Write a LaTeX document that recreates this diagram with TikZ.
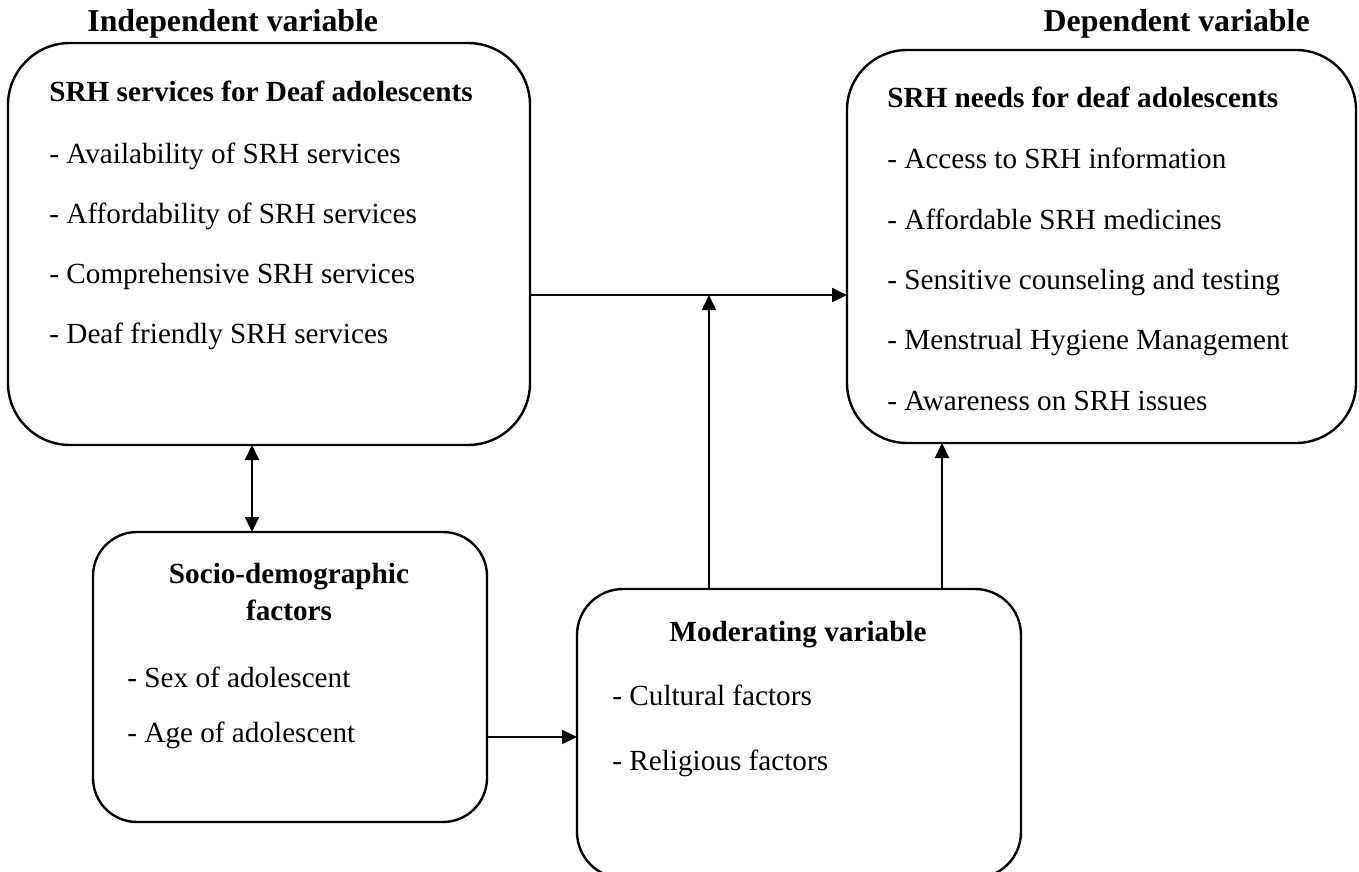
\documentclass[tikz,border=0pt]{standalone}
\usepackage{fontspec}
\setmainfont{Liberation Serif}
\usetikzlibrary{arrows.meta,calc}
\begin{document}
\begin{tikzpicture}[x=0.5pt,y=-0.5pt,
  box/.style={draw,line width=1.2pt,outer sep=0pt,inner sep=0pt,rectangle},
  txt/.style={anchor=base west,inner sep=0pt,font=\fontsize{14.6}{17}\selectfont},
  ttl/.style={anchor=base west,inner sep=0pt,font=\fontsize{14.6}{17}\selectfont\bfseries},
  hdr/.style={inner sep=0pt,font=\fontsize{15.9}{19}\selectfont\bfseries},
  arr/.style={line width=1pt,-{Triangle[length=7.5pt,width=7pt]}},
  darr/.style={line width=1pt,{Triangle[length=7.5pt,width=7pt]}-{Triangle[length=7.5pt,width=7pt]}},
  tarr/.style={line width=0.75pt,-{Triangle[length=7.5pt,width=7pt]}}]
\useasboundingbox (0,0) rectangle (1359,872);
% boxes
\node[box,minimum width=261pt,minimum height=201pt,rounded corners=31pt] (b1) at (269,244) {};
\node[box,minimum width=254.5pt,minimum height=196.5pt,rounded corners=30pt] (b2) at (1101.5,246.5) {};
\node[box,minimum width=197pt,minimum height=145pt,rounded corners=22pt] (b3) at (290,677) {};
\node[box,minimum width=222pt,minimum height=144.5pt,rounded corners=23pt] (b4) at (799,733.5) {};
% headers
\node[hdr,anchor=base west] (h1) at (87,32) {Independent variable};
\node[hdr,anchor=base east] (h2) at (1310,32) {Dependent variable};
% box 1 text
\node[ttl] (t1) at (49,102) {SRH services for Deaf adolescents};
\node[txt] (t1a) at (49,163) {- Availability of SRH services};
\node[txt] (t1b) at (49,223) {- Affordability of SRH services};
\node[txt] (t1c) at (49,283) {- Comprehensive SRH services};
\node[txt] (t1d) at (49,343) {- Deaf friendly SRH services};
% box 2 text
\node[ttl] (t2) at (887,108) {SRH needs for deaf adolescents};
\node[txt] (t2a) at (887,169) {- Access to SRH information};
\node[txt] (t2b) at (887,229) {- Affordable SRH medicines};
\node[txt] (t2c) at (887,289) {- Sensitive counseling and testing};
\node[txt] (t2d) at (887,349) {- Menstrual Hygiene Management};
\node[txt] (t2e) at (887,410) {- Awareness on SRH issues};
% box 3 text
\node[ttl,anchor=base] (t3) at (289,583) {Socio-demographic};
\node[ttl,anchor=base] (t3b) at (289,620) {factors};
\node[txt] (t3c) at (127,687) {- Sex of adolescent};
\node[txt] (t3d) at (127,742) {- Age of adolescent};
% box 4 text
\node[ttl,anchor=base] (t4) at (798,641) {Moderating variable};
\node[txt] (t4a) at (612,705) {- Cultural factors};
\node[txt] (t4b) at (612,770) {- Religious factors};
% connector helpers
\coordinate (m) at (709,295);
\coordinate (n) at (942,0);
\coordinate (d) at (252,0);
\coordinate (h) at (0,737);
% connectors
\draw[arr] (b1.east |- m) -- (b2.west |- m);
\draw[tarr] (b4.north -| m) -- (m);
\draw[arr] (b4.north -| n) -- (b2.south -| n);
\draw[darr] (b1.south -| d) -- (b3.north -| d);
\draw[arr] (b3.east |- h) -- (b4.west |- h);
\end{tikzpicture}
\end{document}
